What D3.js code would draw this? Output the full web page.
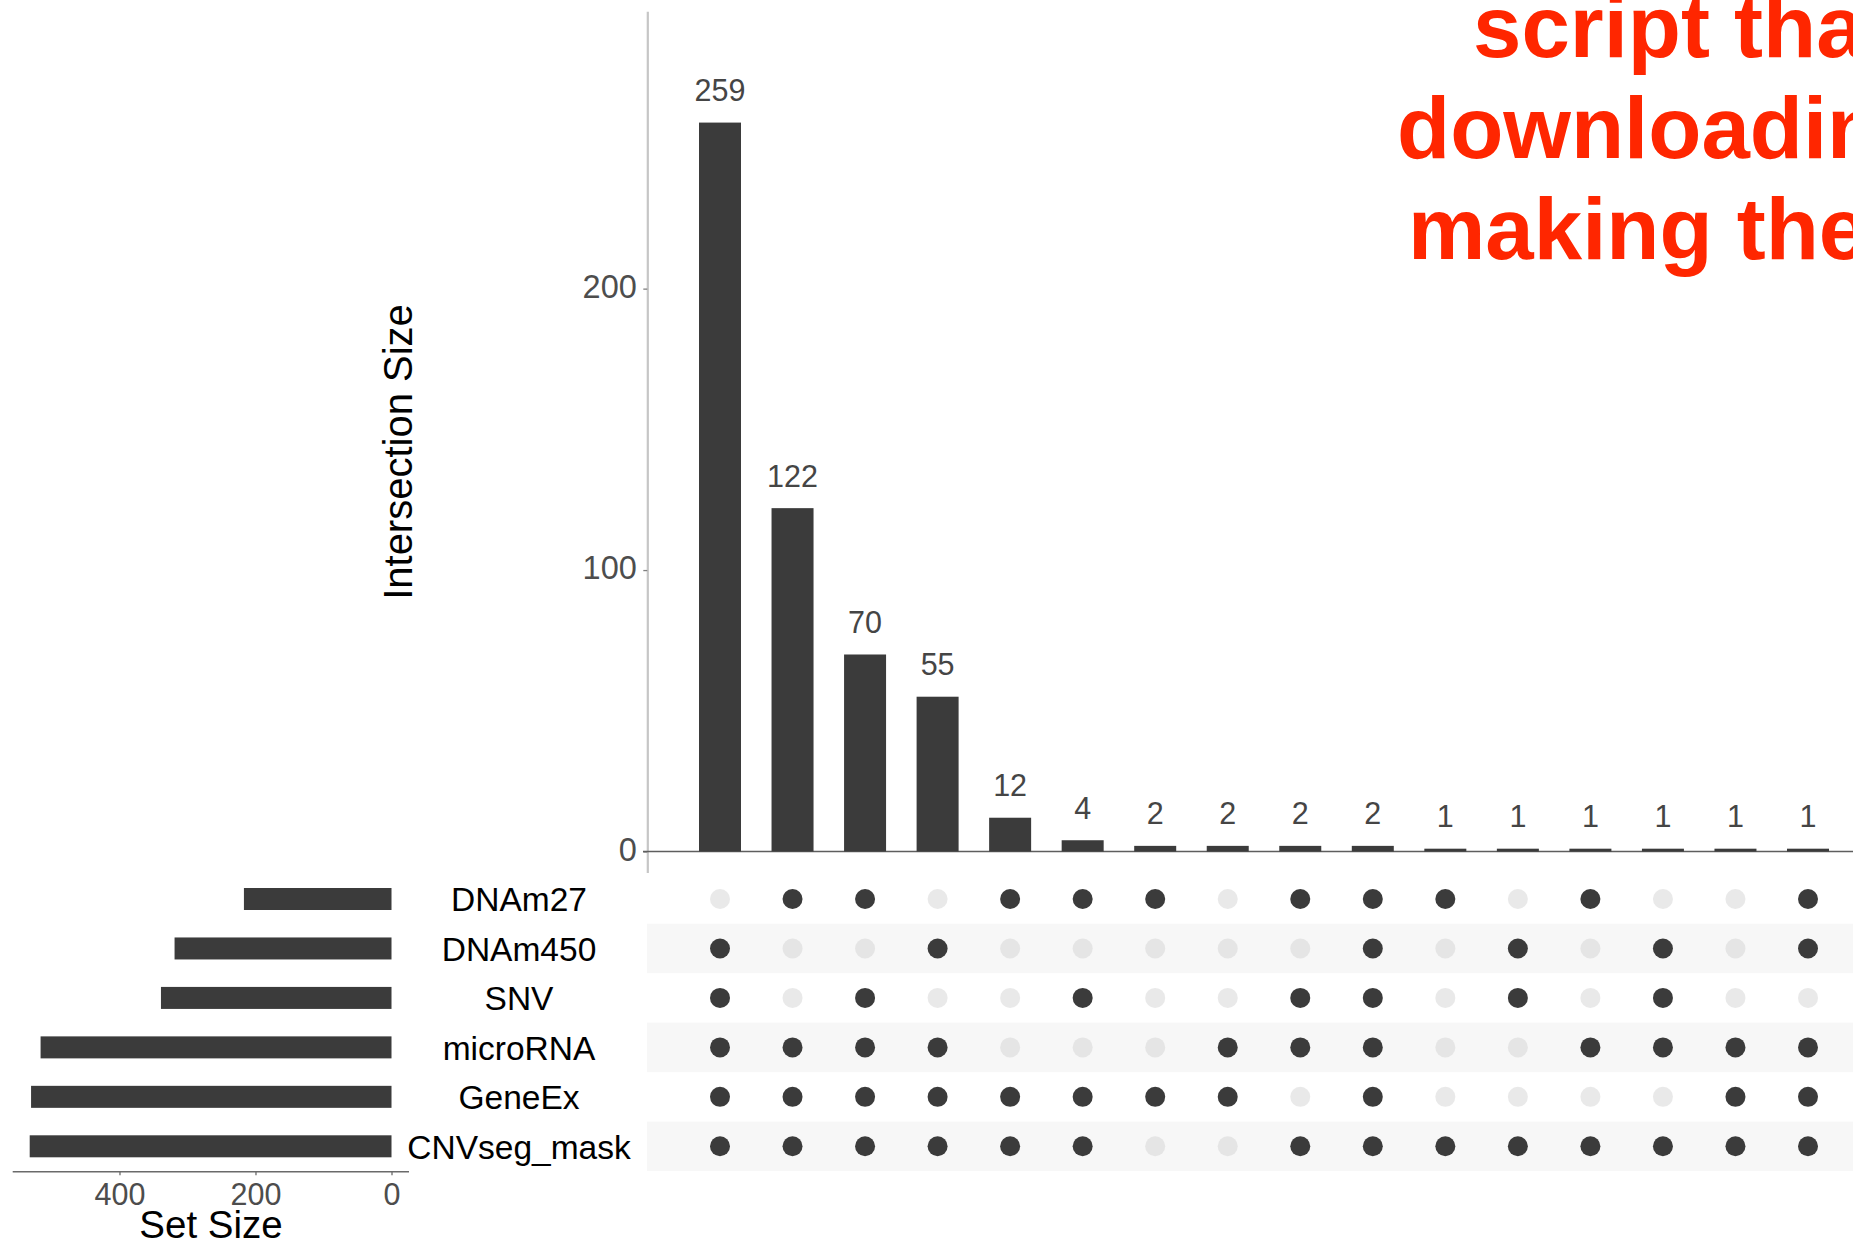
<!DOCTYPE html>
<html><head><meta charset="utf-8">
<script src="https://cdn.jsdelivr.net/npm/d3@7"></script>
<style>
body{margin:0;background:#fff;}
svg{display:block;font-family:"Liberation Sans",Arial,Helvetica,sans-serif;}
</style>
</head><body>
<svg id="c" width="1853" height="1243"></svg>
<script>
// ---------------- data ----------------
const sets = ["DNAm27", "DNAm450", "SNV", "microRNA", "GeneEx", "CNVseg_mask"];
const setSizes = [217, 319, 339, 516, 530, 532];
const intersectionSizes = [259, 122, 70, 55, 12, 4, 2, 2, 2, 2, 1, 1, 1, 1, 1, 1];
// membership of each intersection, in the order of `sets`
const membership = [
  [0,1,1,1,1,1],
  [1,0,0,1,1,1],
  [1,0,1,1,1,1],
  [0,1,0,1,1,1],
  [1,0,0,0,1,1],
  [1,0,1,0,1,1],
  [1,0,0,0,1,0],
  [0,0,0,1,1,0],
  [1,0,1,1,0,1],
  [1,1,1,1,1,1],
  [1,0,0,0,0,1],
  [0,1,1,0,0,1],
  [1,0,0,1,0,1],
  [0,1,1,1,0,1],
  [0,0,0,1,1,1],
  [1,1,0,1,1,1]
];
const yTickValues = [0, 100, 200];
const setTickValues = [0, 200, 400];
const noteLines = ["script that", "downloading", "making the"];

// ---------------- layout ----------------
const W = 1853, H = 1243;
const DARK = "#3b3b3b";
const svg = d3.select("#c");

const x = d3.scalePoint().domain(d3.range(intersectionSizes.length)).range([720, 1808]);
const y = d3.scaleLinear().domain([0, 298.4]).range([851.5, 11.7]);
const rowY = d3.scalePoint().domain(sets).range([899, 1146.3]);
const sx = d3.scaleLinear().domain([0, 557]).range([391.5, 12.7]);
const rowH = rowY.step();

// matrix stripes
svg.append("g").selectAll("rect")
  .data(sets.filter((s, i) => i % 2 === 1))
  .join("rect")
  .attr("x", 647).attr("width", W - 647)
  .attr("y", d => rowY(d) - rowH / 2).attr("height", rowH)
  .attr("fill", "#f7f7f7");

// y axis of intersection bars
svg.append("line")
  .attr("x1", 647.8).attr("x2", 647.8).attr("y1", 11.7).attr("y2", 873)
  .attr("stroke", "#c6c6c6").attr("stroke-width", 2.2);

const yAxis = svg.append("g").attr("transform", "translate(647.3,0)")
  .call(d3.axisLeft(y).tickValues(yTickValues).tickSize(4).tickPadding(6.5).tickFormat(d3.format("d")));
yAxis.select(".domain").remove();
yAxis.selectAll(".tick line").attr("stroke", "#808080").attr("stroke-width", 1.3);
yAxis.selectAll(".tick text")
  .attr("font-size", 32.5).attr("fill", "#4d4d4d")
  .attr("font-family", "Liberation Sans, Arial, sans-serif")
  .attr("dy", "0.27em");

// baseline at zero
svg.append("line")
  .attr("x1", 643).attr("x2", W).attr("y1", y(0)).attr("y2", y(0))
  .attr("stroke", "#5e5e5e").attr("stroke-width", 1.5);

// intersection bars
const barW = 42;
svg.append("g").selectAll("rect")
  .data(intersectionSizes)
  .join("rect")
  .attr("x", (d, i) => x(i) - barW / 2)
  .attr("width", barW)
  .attr("y", d => y(d))
  .attr("height", d => y(0) - y(d))
  .attr("fill", DARK);

// bar value labels
svg.append("g").selectAll("text")
  .data(intersectionSizes)
  .join("text")
  .attr("x", (d, i) => x(i))
  .attr("y", d => y(d) - 21.5)
  .attr("text-anchor", "middle")
  .attr("font-size", 30.5)
  .attr("fill", "#454545")
  .text(d => d);

// y axis title
svg.append("text")
  .attr("transform", "translate(412,452) rotate(-90)")
  .attr("text-anchor", "middle")
  .attr("font-size", 40)
  .attr("fill", "#000")
  .text("Intersection Size");

// matrix dots
const dots = [];
membership.forEach((col, i) => col.forEach((m, j) => dots.push({i, set: sets[j], m})));
svg.append("g").selectAll("circle")
  .data(dots)
  .join("circle")
  .attr("cx", d => x(d.i))
  .attr("cy", d => rowY(d.set))
  .attr("r", 10)
  .attr("fill", d => d.m ? DARK : "#d4d4d4")
  .attr("fill-opacity", d => d.m ? 1 : 0.5);

// set size bars
svg.append("g").selectAll("rect")
  .data(sets)
  .join("rect")
  .attr("x", (d, i) => sx(setSizes[i]))
  .attr("width", (d, i) => sx(0) - sx(setSizes[i]))
  .attr("y", d => rowY(d) - 11)
  .attr("height", 22)
  .attr("fill", DARK);

// set names
svg.append("g").selectAll("text")
  .data(sets)
  .join("text")
  .attr("x", 519)
  .attr("y", d => rowY(d))
  .attr("dy", "0.37em")
  .attr("text-anchor", "middle")
  .attr("font-size", 33.5)
  .attr("fill", "#000")
  .text(d => d);

// set size axis
svg.append("line")
  .attr("x1", 12.7).attr("x2", 409).attr("y1", 1171.7).attr("y2", 1171.7)
  .attr("stroke", "#6a6a6a").attr("stroke-width", 1.5);
const sAxis = svg.append("g").attr("transform", "translate(0,1171.7)")
  .call(d3.axisBottom(sx).tickValues(setTickValues).tickSize(3.5).tickPadding(8).tickFormat(d3.format("d")));
sAxis.select(".domain").remove();
sAxis.selectAll(".tick line").attr("stroke", "#6a6a6a").attr("stroke-width", 1.3);
sAxis.selectAll(".tick text")
  .attr("font-size", 30.5).attr("fill", "#4d4d4d")
  .attr("font-family", "Liberation Sans, Arial, sans-serif");

svg.append("text")
  .attr("x", 211).attr("y", 1238)
  .attr("text-anchor", "middle")
  .attr("font-size", 38.5)
  .attr("fill", "#000")
  .text("Set Size");

// red overlay note (clipped at the right edge, as in the reference)
const noteX = [1473, 1397, 1408];
svg.append("g").selectAll("text")
  .data(noteLines)
  .join("text")
  .attr("x", (d, i) => noteX[i])
  .attr("y", (d, i) => 56.7 + i * 101)
  .attr("font-size", 87)
  .attr("font-weight", "bold")
  .attr("fill", "#ff2600")
  .text(d => d);
</script>
</body></html>
